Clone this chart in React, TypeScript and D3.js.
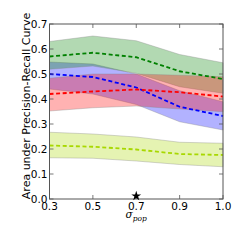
import { useEffect, useRef } from 'react';
import * as d3 from 'd3';

const xLabels = ['0.3', '0.5', '0.7', '0.9', '1.0'];
const yTicks = [0, 0.1, 0.2, 0.3, 0.4, 0.5, 0.6, 0.7];

const greenMean = [0.57, 0.585, 0.567, 0.511, 0.48];
const greenUpper = [0.63, 0.652, 0.633, 0.578, 0.545];
const greenLower = [0.519, 0.532, 0.503, 0.449, 0.423];

const blueMean = [0.5, 0.488, 0.446, 0.369, 0.332];
const blueUpper = [0.548, 0.54, 0.5, 0.433, 0.389];
const blueLower = [0.44, 0.42, 0.378, 0.309, 0.276];

const redMean = [0.42, 0.43, 0.438, 0.427, 0.41];
const redUpper = [0.483, 0.5, 0.5, 0.495, 0.489];
const redLower = [0.352, 0.365, 0.372, 0.36, 0.349];

const yellowMean = [0.214, 0.209, 0.198, 0.18, 0.176];
const yellowUpper = [0.267, 0.26, 0.248, 0.227, 0.223];
const yellowLower = [0.165, 0.163, 0.152, 0.138, 0.129];

const starIndex = 2;
const starValue = 0.012;

const series = [
  { color: '#0000ff', mean: blueMean, upper: blueUpper, lower: blueLower },
  { color: '#008000', mean: greenMean, upper: greenUpper, lower: greenLower },
  { color: '#ff0000', mean: redMean, upper: redUpper, lower: redLower },
  { color: '#a8d800', mean: yellowMean, upper: yellowUpper, lower: yellowLower },
];

export default function App() {
  const svgRef = useRef<SVGSVGElement>(null);

  useEffect(() => {
    if (!svgRef.current) return;
    document.body.style.margin = '0';
    const svg = d3.select(svgRef.current);
    svg.selectAll('*').remove();

    const left = 49.5, right = 223, top = 24, bottom = 199;
    const font = 'DejaVu Sans, sans-serif';

    const x = d3.scaleLinear().domain([0, xLabels.length - 1]).range([left, right]);
    const y = d3.scaleLinear().domain([0, 0.7]).range([bottom, top]);

    const idx = d3.range(xLabels.length);

    // bands
    series.forEach(s => {
      const area = d3.area<number>()
        .x(i => x(i))
        .y0(i => y(s.lower[i]))
        .y1(i => y(s.upper[i]));
      svg.append('path')
        .attr('d', area(idx) || '')
        .attr('fill', s.color)
        .attr('fill-opacity', 0.3)
        .attr('stroke', '#888')
        .attr('stroke-opacity', 0.5)
        .attr('stroke-width', 0.7);
    });

    // mean lines
    series.forEach(s => {
      const line = d3.line<number>().x(i => x(i)).y(i => y(s.mean[i]));
      svg.append('path')
        .attr('d', line(idx) || '')
        .attr('fill', 'none')
        .attr('stroke', s.color)
        .attr('stroke-width', 1.8)
        .attr('stroke-dasharray', '4,2.6');
    });

    // frame
    svg.append('rect')
      .attr('x', left).attr('y', top)
      .attr('width', right - left).attr('height', bottom - top)
      .attr('fill', 'none')
      .attr('stroke', '#555')
      .attr('stroke-width', 1);

    // ticks (inward, all four sides)
    const tl = 4;
    yTicks.forEach(t => {
      svg.append('line').attr('x1', left).attr('x2', left + tl).attr('y1', y(t)).attr('y2', y(t))
        .attr('stroke', '#555').attr('stroke-width', 0.8);
      svg.append('line').attr('x1', right).attr('x2', right - tl).attr('y1', y(t)).attr('y2', y(t))
        .attr('stroke', '#555').attr('stroke-width', 0.8);
      svg.append('text')
        .attr('x', left - 2).attr('y', y(t) + 3.8)
        .attr('text-anchor', 'end')
        .attr('font-family', font).attr('font-size', 10.5)
        .attr('fill', '#000')
        .text(t.toFixed(1));
    });
    idx.forEach(i => {
      svg.append('line').attr('x1', x(i)).attr('x2', x(i)).attr('y1', bottom).attr('y2', bottom - tl)
        .attr('stroke', '#555').attr('stroke-width', 0.8);
      svg.append('line').attr('x1', x(i)).attr('x2', x(i)).attr('y1', top).attr('y2', top + tl)
        .attr('stroke', '#555').attr('stroke-width', 0.8);
      svg.append('text')
        .attr('x', x(i)).attr('y', 209.5)
        .attr('text-anchor', 'middle')
        .attr('font-family', font).attr('font-size', 10.5)
        .attr('fill', '#000')
        .text(xLabels[i]);
    });

    // star marker
    svg.append('path')
      .attr('d', d3.symbol().type(d3.symbolStar).size(30)() || '')
      .attr('transform', `translate(${x(starIndex)},${y(starValue)})`)
      .attr('fill', '#000');

    // y label
    svg.append('text')
      .attr('transform', `translate(29.5,106) rotate(-90)`)
      .attr('text-anchor', 'middle')
      .attr('font-family', font).attr('font-size', 11)
      .attr('fill', '#000')
      .text('Area under Precision-Recall Curve');

    // x label
    const xl = svg.append('text')
      .attr('x', (left + right) / 2).attr('y', 217.5)
      .attr('text-anchor', 'middle')
      .attr('font-family', 'DejaVu Serif, serif')
      .attr('font-style', 'italic')
      .attr('fill', '#000');
    xl.append('tspan').attr('font-size', 10.5).text('σ');
    xl.append('tspan').attr('font-size', 7.5).attr('dy', 3).text('pop');
  }, []);

  return <svg ref={svgRef} width={249} height={249} style={{ display: 'block' }} />;
}
